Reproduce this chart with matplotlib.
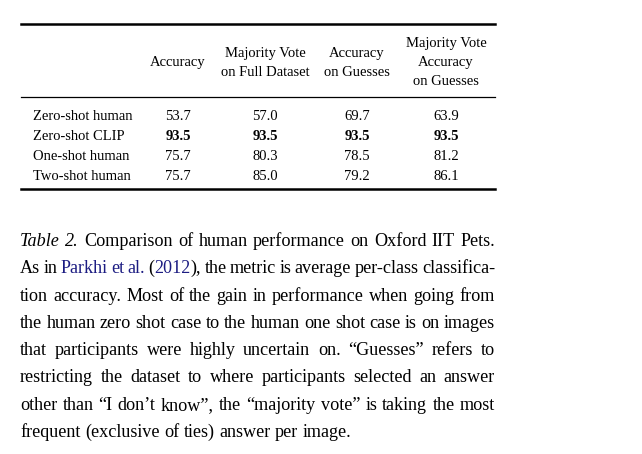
import re
import matplotlib
matplotlib.use('Agg')
import matplotlib.pyplot as plt

plt.rcParams['font.family'] = ['Liberation Serif', 'DejaVu Serif']

# table data
models = ['Zero-shot human', 'Zero-shot CLIP', 'One-shot human', 'Two-shot human']
headers = ['Accuracy', 'Majority Vote\non Full Dataset', 'Accuracy\non Guesses',
           'Majority Vote\nAccuracy\non Guesses']
accuracy = [53.7, 93.5, 75.7, 75.7]
majority_full = [57.0, 93.5, 80.3, 85.0]
accuracy_guesses = [69.7, 93.5, 78.5, 79.2]
majority_guesses = [63.9, 93.5, 81.2, 86.1]
best_model = 'Zero-shot CLIP'

# caption, one entry per typeset line; _x_ = italic, [x] = citation link
caption_lines = [
    '_Table_ _2._ Comparison of human performance on Oxford IIT Pets.',
    'As in [Parkhi] [et] [al.] ([2012]), the metric is average per-class classifica-',
    'tion accuracy. Most of the gain in performance when going from',
    'the human zero shot case to the human one shot case is on images',
    'that participants were highly uncertain on. \u201cGuesses\u201d refers to',
    'restricting the dataset to where participants selected an answer',
    'other than \u201cI don\u2019t know\u201d, the \u201cmajority vote\u201d is taking the most',
    'frequent (exclusive of ties) answer per image.',
]

W, H = 642, 454
LINK = '#1c1c82'

fig = plt.figure(figsize=(W / 100, H / 100), dpi=100)
ax = fig.add_axes([0, 0, 1, 1])
ax.set_xlim(0, W)
ax.set_ylim(H, 0)
ax.axis('off')

# --- table ---
left, right = 21, 495
ax.plot([left, right], [24, 24], color='black', lw=1.8)
ax.plot([left, right], [96.5, 96.5], color='black', lw=0.9)
ax.plot([left, right], [189, 189], color='black', lw=1.8)

tsize = 10.5
col_x = [178, 265, 357, 446]
head_mid, head_pitch = 66, 19
for cx, head in zip(col_x, headers):
    parts = head.split('\n')
    n = len(parts)
    for k, p in enumerate(parts):
        ax.text(cx, head_mid + (k - (n - 1) / 2) * head_pitch, p, ha='center',
                va='baseline', fontsize=tsize)

columns = [accuracy, majority_full, accuracy_guesses, majority_guesses]
row_y0, row_pitch = 119.5, 20
for i, m in enumerate(models):
    y = row_y0 + i * row_pitch
    ax.text(33, y, m, ha='left', va='baseline', fontsize=tsize)
    w = 'bold' if m == best_model else 'normal'
    for cx, col in zip(col_x, columns):
        ax.text(cx, y, f'{col[i]:.1f}', ha='center', va='baseline',
                fontsize=tsize, fontweight=w)

# --- caption (justified) ---
csize = 13.1
cap_left, cap_right = 20, 495
base0, pitch = 246, 27.3
renderer = fig.canvas.get_renderer()


def pieces(word):
    out = []
    for part in re.split(r'(\[[^\]]+\]|_[^_]+_)', word):
        if not part:
            continue
        if part.startswith('['):
            out.append((part[1:-1], 'normal', LINK))
        elif part.startswith('_'):
            out.append((part[1:-1], 'italic', 'black'))
        else:
            out.append((part, 'normal', 'black'))
    return out


def px_width(t):
    return t.get_window_extent(renderer).width * (W / fig.bbox.width)


space_nat = csize * 0.25 * 100 / 72
for li, line in enumerate(caption_lines):
    y = base0 + li * pitch
    words = []
    for word in line.split(' '):
        arts = []
        for txt, style, color in pieces(word):
            arts.append(ax.text(0, y, txt, ha='left', va='baseline', fontsize=csize,
                                fontstyle=style, color=color))
        widths = [px_width(a) for a in arts]
        words.append((arts, widths))
    total = sum(sum(w) for _, w in words)
    last = li == len(caption_lines) - 1
    gap = space_nat if last else (cap_right - cap_left - total) / (len(words) - 1)
    x = cap_left
    for arts, widths in words:
        for a, w in zip(arts, widths):
            a.set_x(x)
            x += w
        x += gap

fig.savefig('out.png', dpi=100)
